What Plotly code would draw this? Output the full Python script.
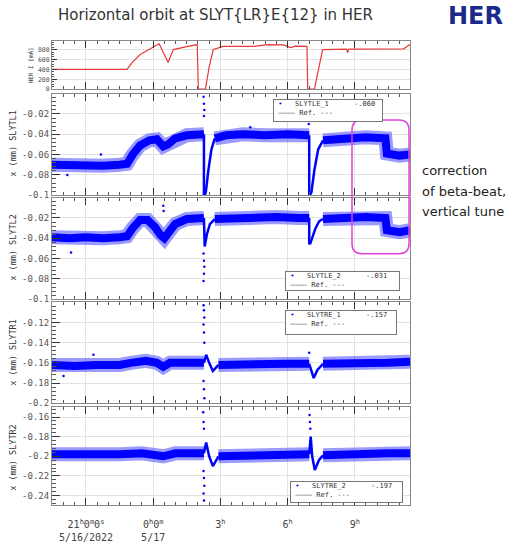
import plotly.graph_objects as go

W, H = 519, 549
D1, D2 = "2022-05-16 ", "2022-05-17 "

# ---------------- data ----------------
cur_t = [D1+"19:29", D1+"22:50", D1+"23:04", D1+"23:25", D1+"23:57", D2+"00:16", D2+"00:40",
         D2+"00:54", D2+"01:30", D2+"01:58", D2+"02:01", D2+"02:20", D2+"02:30", D2+"02:41",
         D2+"03:08", D2+"04:30", D2+"05:06", D2+"05:49", D2+"06:08", D2+"06:21", D2+"06:52",
         D2+"06:54", D2+"07:12", D2+"07:23", D2+"07:34", D2+"08:38", D2+"08:41", D2+"08:44",
         D2+"11:11", D2+"11:28"]
cur_v = [400, 400, 540, 700, 835, 915, 540, 800, 860, 900, 0, 0, 450, 800,
         865, 865, 900, 895, 840, 870, 865, 0, 0, 400, 800, 810, 740, 810, 815, 900]

# SLYTL1
l1_t = [D1+"19:29", D1+"20:15", D1+"21:00", D1+"21:45", D1+"22:30", D1+"22:50", D1+"23:05",
        D1+"23:25", D1+"23:50", D2+"00:10", D2+"00:27", D2+"00:40", D2+"00:59", D2+"01:30",
        D2+"02:16", None, D2+"02:45", D2+"03:15", D2+"04:00", D2+"05:00", D2+"06:00",
        D2+"06:58", None, D2+"07:35", D2+"08:30", D2+"09:30", D2+"10:22", D2+"10:26",
        D2+"11:00", D2+"11:28"]
l1_v = [-0.070, -0.071, -0.070, -0.071, -0.070, -0.069, -0.060, -0.051, -0.046, -0.045,
        -0.052, -0.050, -0.044, -0.041, -0.040, None, -0.044, -0.041, -0.040, -0.041,
        -0.040, -0.041, None, -0.046, -0.044, -0.043, -0.044, -0.059, -0.061, -0.060]
l1_tr_t = [D2+"02:16", D2+"02:16", None, D2+"02:18", D2+"02:21", D2+"02:28", D2+"02:36", D2+"02:45",
           None, D2+"06:58", D2+"06:58", None, D2+"07:00", D2+"07:04", D2+"07:12", D2+"07:22", D2+"07:35"]
l1_tr_v = [-0.040, -0.100, None, -0.100, -0.097, -0.075, -0.055, -0.044,
           None, -0.041, -0.100, None, -0.100, -0.097, -0.075, -0.055, -0.046]
l1_o_t = [D2+"02:15", D2+"02:16", D2+"02:17", D2+"02:16", D2+"06:57", D1+"21:40", D1+"20:10", D2+"04:20"]
l1_o_v = [-0.003, -0.010, -0.016, -0.022, -0.030, -0.060, -0.080, -0.033]

# SLYTL2
l2_t = [D1+"19:29", D1+"20:15", D1+"21:00", D1+"21:45", D1+"22:30", D1+"22:50", D1+"23:05",
        D1+"23:25", D1+"23:45", D2+"00:05", D2+"00:20", D2+"00:30", D2+"00:42", D2+"00:59",
        D2+"01:30", D2+"02:16", None, D2+"02:45", D2+"03:30", D2+"04:30", D2+"05:30",
        D2+"06:30", D2+"06:58", None, D2+"07:35", D2+"08:30", D2+"09:30", D2+"10:22",
        D2+"10:26", D2+"11:00", D2+"11:28"]
l2_v = [-0.039, -0.040, -0.039, -0.040, -0.039, -0.038, -0.030, -0.022, -0.022, -0.029,
        -0.037, -0.040, -0.034, -0.026, -0.021, -0.020, None, -0.021, -0.020, -0.020,
        -0.019, -0.020, -0.020, None, -0.021, -0.020, -0.019, -0.020, -0.032, -0.034, -0.032]
l2_tr_t = [D2+"02:16", D2+"02:18", D2+"02:24", D2+"02:32", D2+"02:45", None,
           D2+"06:58", D2+"06:58", None, D2+"07:00", D2+"07:06", D2+"07:15", D2+"07:25", D2+"07:35"]
l2_tr_v = [-0.020, -0.048, -0.036, -0.026, -0.021, None,
           -0.020, -0.046, None, -0.046, -0.040, -0.030, -0.023, -0.021]
l2_o_t = [D2+"02:15", D2+"02:16", D2+"02:17", D2+"02:16", D2+"02:15", D2+"00:27", D2+"00:28", D1+"20:20"]
l2_o_v = [-0.055, -0.062, -0.068, -0.075, -0.082, -0.008, -0.013, -0.054]

# SLYTR1
r1_t = [D1+"19:29", D1+"20:30", D1+"21:30", D1+"22:30", D1+"23:00", D1+"23:40", D2+"00:10",
        D2+"00:27", D2+"00:45", D2+"01:30", D2+"02:16", None, D2+"02:55", D2+"04:00",
        D2+"05:00", D2+"06:00", D2+"06:58", None, D2+"07:35", D2+"08:30", D2+"09:30",
        D2+"10:30", D2+"11:28"]
r1_v = [-0.162, -0.163, -0.162, -0.162, -0.160, -0.158, -0.160, -0.164, -0.160, -0.160,
        -0.160, None, -0.162, -0.161, -0.162, -0.161, -0.161, None, -0.161, -0.161,
        -0.160, -0.160, -0.159]
r1_tr_t = [D2+"02:16", D2+"02:22", D2+"02:30", D2+"02:40", D2+"02:55", None,
           D2+"06:58", D2+"07:03", D2+"07:10", D2+"07:20", D2+"07:35"]
r1_tr_v = [-0.160, -0.152, -0.160, -0.168, -0.162, None,
           -0.161, -0.168, -0.175, -0.167, -0.161]
r1_o_t = [D2+"02:15", D2+"02:16", D2+"02:17", D2+"02:15", D2+"02:16", D2+"02:17",
          D2+"02:15", D2+"02:16", D2+"02:17", D2+"06:58", D1+"21:20", D1+"20:00"]
r1_o_v = [-0.103, -0.108, -0.115, -0.122, -0.130, -0.140, -0.178, -0.186, -0.195, -0.150, -0.152, -0.173]

# SLYTR2
r2_t = [D1+"19:29", D1+"20:30", D1+"21:30", D1+"22:30", D1+"23:30", D2+"00:27", D2+"01:00",
        D2+"02:16", None, D2+"02:55", D2+"04:00", D2+"05:00", D2+"06:00", D2+"06:58", None,
        D2+"07:35", D2+"08:30", D2+"09:30", D2+"10:30", D2+"11:28"]
r2_v = [-0.198, -0.199, -0.198, -0.198, -0.197, -0.200, -0.197, -0.197, None, -0.200,
        -0.199, -0.198, -0.199, -0.198, None, -0.199, -0.198, -0.197, -0.197, -0.197]
r2_tr_t = [D2+"02:16", D2+"02:22", D2+"02:30", D2+"02:40", D2+"02:55", None,
           D2+"06:58", D2+"07:02", D2+"07:06", D2+"07:13", D2+"07:24", D2+"07:35"]
r2_tr_v = [-0.197, -0.186, -0.200, -0.210, -0.200, None,
           -0.198, -0.180, -0.200, -0.214, -0.204, -0.199]
r2_o_t = [D2+"02:14", D2+"02:15", D2+"02:16", D2+"02:15", D2+"02:16", D2+"02:17",
          D2+"02:15", D2+"02:16", D2+"06:59", D2+"07:00", D2+"07:01"]
r2_o_v = [-0.155, -0.165, -0.172, -0.215, -0.222, -0.230, -0.238, -0.245, -0.158, -0.165, -0.172]

names = ["SLYTLE_1", "SLYTLE_2", "SLYTRE_1", "SLYTRE_2"]
last_vals = ["-.060", "-.031", "-.157", "-.197"]
ytitles = ["x (mm) SLYTL1", "x (mm) SLYTL2", "x (mm) SLYTR1", "x (mm) SLYTR2"]
x_tickvals = [D1+"21:00", D2+"00:00", D2+"03:00", D2+"06:00", D2+"09:00"]
x_ticktext = ["21<sup>h</sup>0<sup>m</sup>0<sup>s</sup><br>5/16/2022", "0<sup>h</sup>0<sup>m</sup><br>5/17",
              "3<sup>h</sup>", "6<sup>h</sup>", "9<sup>h</sup>"]
y_ranges = [[-0.1, 0.0], [-0.1, 0.0], [-0.2, -0.1], [-0.25, -0.15]]
y_ticks = [[-0.1, -0.08, -0.06, -0.04, -0.02, 0.0],
           [-0.1, -0.08, -0.06, -0.04, -0.02, 0.0],
           [-0.2, -0.18, -0.16, -0.14, -0.12, -0.1],
           [-0.24, -0.22, -0.2, -0.18, -0.16]]
y_ticktext = [["-0.1", "-0.08", "-0.06", "-0.04", "-0.02", ""],
              ["-0.1", "-0.08", "-0.06", "-0.04", "-0.02", ""],
              ["-0.2", "-0.18", "-0.16", "-0.14", "-0.12", ""],
              ["-0.24", "-0.22", "-0.2", "-0.18", "-0.16"]]
cur_ticks = [0, 200, 400, 600, 800]
side_note = ["correction", "of beta-beat,", "vertical tune"]

series = [(l1_t, l1_v, l1_tr_t, l1_tr_v, l1_o_t, l1_o_v),
          (l2_t, l2_v, l2_tr_t, l2_tr_v, l2_o_t, l2_o_v),
          (r1_t, r1_v, r1_tr_t, r1_tr_v, r1_o_t, r1_o_v),
          (r2_t, r2_v, r2_tr_t, r2_tr_v, r2_o_t, r2_o_v)]

# ---------------- layout geometry (pixels) ----------------
X0, X1 = 52, 410
panels_px = [(41, 90), (94.5, 197), (199.5, 302), (305, 407), (411, 510)]
legend_px = [(273, 100, 110, 23), (285, 273, 115, 20), (285, 313, 112, 25), (290, 485, 113, 22)]
ytitle_y = [145, 250, 356, 462]
note_y = [172, 193, 213]

def ydom(top, bot):
    return [1 - bot / H, 1 - top / H]

BLUE = "#0000ff"
MONO = "DejaVu Sans Mono"
fig = go.Figure()

fig.add_trace(go.Scatter(x=cur_t, y=cur_v, mode="lines", line=dict(color="#e8393a", width=1.2),
                         xaxis="x", yaxis="y", hoverinfo="skip"))
for i, (bt, bv, tt, tv, ot, ov) in enumerate(series):
    ax = str(i + 2)
    fig.add_trace(go.Scatter(x=bt, y=bv, mode="lines", line=dict(color="rgba(30,30,255,0.45)", width=14),
                             xaxis="x" + ax, yaxis="y" + ax))
    fig.add_trace(go.Scatter(x=bt, y=bv, mode="lines", line=dict(color=BLUE, width=8),
                             xaxis="x" + ax, yaxis="y" + ax))
    fig.add_trace(go.Scatter(x=tt, y=tv, mode="lines", line=dict(color=BLUE, width=2.5),
                             xaxis="x" + ax, yaxis="y" + ax))
    fig.add_trace(go.Scatter(x=ot, y=ov, mode="markers", marker=dict(color=BLUE, size=2.5),
                             xaxis="x" + ax, yaxis="y" + ax))

xr = [D1 + "19:29", D2 + "11:28"]
xcommon = dict(type="date", range=xr, domain=[X0 / W, X1 / W], tickmode="array",
               tickvals=x_tickvals, ticktext=x_ticktext, ticks="inside", ticklen=7,
               tickcolor="#333", showline=True, linecolor="#888", mirror="ticks",
               showgrid=True, gridcolor="#e2e2e2", zeroline=False, ticklabelstandoff=10,
               tickfont=dict(family=MONO, size=10, color="#444"),
               minor=dict(ticks="inside", ticklen=3, dtick=1800000, tick0=D1 + "21:00",
                          tickcolor="#555", showgrid=False))
lay = {}
for k in range(1, 6):
    key = "xaxis" if k == 1 else "xaxis%d" % k
    d = dict(xcommon)
    d["anchor"] = "y" if k == 1 else "y%d" % k
    if k != 1:
        d["matches"] = "x"
    d["showticklabels"] = (k == 5)
    lay[key] = d

lay["yaxis"] = dict(domain=ydom(*panels_px[0]), anchor="x", range=[0, 980], tickmode="array",
                    tickvals=cur_ticks, ticktext=[str(v) for v in cur_ticks], ticks="inside",
                    ticklen=5, tickcolor="#333", showline=True, linecolor="#888", mirror=True,
                    showgrid=True, gridcolor="#e2e2e2", zeroline=False,
                    tickfont=dict(family=MONO, size=6.5, color="#555"),
                    minor=dict(ticks="inside", ticklen=2, dtick=50, tickcolor="#555"))
for i in range(4):
    lay["yaxis%d" % (i + 2)] = dict(
        domain=ydom(*panels_px[i + 1]), anchor="x%d" % (i + 2), range=y_ranges[i],
        tickmode="array", tickvals=y_ticks[i], ticktext=y_ticktext[i], ticks="inside",
        ticklen=8, tickcolor="#333", showline=True, linecolor="#888", mirror=True,
        showgrid=True, gridcolor="#e2e2e2", zeroline=False,
        tickfont=dict(family=MONO, size=9, color="#555"),
        minor=dict(ticks="inside", ticklen=4, dtick=0.004, tickcolor="#555", showgrid=False))

ann = []
ann.append(dict(text="Horizontal orbit at SLYT{LR}E{12} in HER", x=215 / W, y=1 - 15 / H,
                xref="paper", yref="paper", xanchor="center", yanchor="middle", showarrow=False,
                font=dict(family="DejaVu Sans", size=15, color="#333")))
ann.append(dict(text="<b>HER</b>", x=475 / W, y=1 - 16 / H, xref="paper", yref="paper",
                xanchor="center", yanchor="middle", showarrow=False,
                font=dict(family="DejaVu Sans", size=24, color="#1a2a8c")))
for s, yy in zip(side_note, note_y):
    ann.append(dict(text=s, x=420 / W, y=1 - yy / H, xref="paper", yref="paper",
                    xanchor="left", yanchor="middle", showarrow=False,
                    font=dict(family="DejaVu Sans", size=13, color="#222")))
ann.append(dict(text="HER I [mA]", x=30 / W, y=1 - 66 / H, xref="paper", yref="paper",
                xanchor="center", yanchor="middle",
                textangle=-90, showarrow=False, font=dict(family=MONO, size=6, color="#333")))
for i in range(4):
    ann.append(dict(text=ytitles[i], x=13 / W, y=1 - ytitle_y[i] / H, xref="paper", yref="paper",
                    xanchor="center", yanchor="middle",
                    textangle=-90, showarrow=False, font=dict(family=MONO, size=8.5, color="#333")))
    lx, ly, lw, lh = legend_px[i]
    nb = "\u00a0"
    txt = (nb + "<span style='color:#0000ff'>•</span>" + nb * 3 + names[i] + nb * 6 + last_vals[i] +
           "<br>" + nb + "————" + nb + "Ref." + nb + "---")
    ann.append(dict(text=txt, x=lx / W, y=1 - ly / H, xref="paper", yref="paper",
                    xanchor="left", yanchor="top", align="left", valign="top",
                    width=lw - 2, height=lh - 2, showarrow=False, bgcolor="white",
                    bordercolor="#777", borderwidth=1, borderpad=0,
                    font=dict(family=MONO, size=7, color="#333")))

# magenta rounded box
bx0, bx1, by0, by1, r = 352 / W, 409 / W, 1 - 256 / H, 1 - 121 / H, 10
rx, ry = r / W, r / H
path = (f"M {bx0+rx},{by1} L {bx1-rx},{by1} Q {bx1},{by1} {bx1},{by1-ry} "
        f"L {bx1},{by0+ry} Q {bx1},{by0} {bx1-rx},{by0} L {bx0+rx},{by0} "
        f"Q {bx0},{by0} {bx0},{by0+ry} L {bx0},{by1-ry} Q {bx0},{by1} {bx0+rx},{by1} Z")
shapes = [dict(type="path", path=path, xref="paper", yref="paper",
               line=dict(color="#e040e0", width=1.5))]

fig.update_layout(width=W, height=H, margin=dict(l=0, r=0, t=0, b=0), paper_bgcolor="white",
                  plot_bgcolor="white", showlegend=False, annotations=ann, shapes=shapes, **lay)
fig.write_html("out.html")
